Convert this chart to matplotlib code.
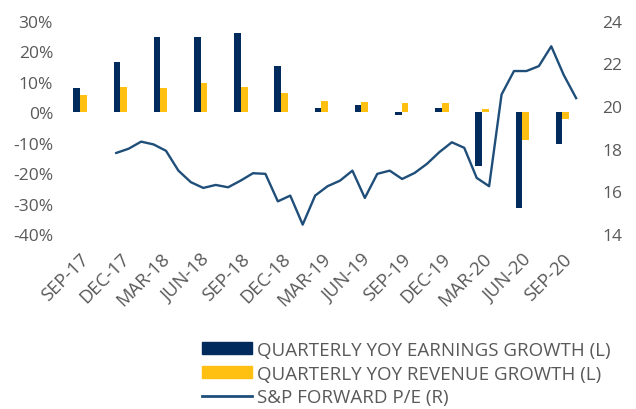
import matplotlib
matplotlib.use('Agg')
import matplotlib.pyplot as plt
from matplotlib.patches import Patch
from matplotlib.lines import Line2D
import numpy as np

# --- データ ---
quarters = ['SEP-17', 'DEC-17', 'MAR-18', 'JUN-18', 'SEP-18', 'DEC-18', 'MAR-19',
            'JUN-19', 'SEP-19', 'DEC-19', 'MAR-20', 'JUN-20', 'SEP-20']
earnings_growth = [7.9, 16.4, 24.7, 24.7, 25.8, 15.1, 1.3, 2.4, -0.9, 1.5, -17.8, -31.4, -10.4]
revenue_growth = [5.7, 8.2, 7.9, 9.6, 8.2, 6.3, 3.6, 3.3, 3.1, 3.1, 1.1, -9.3, -2.2]
forward_pe = [17.8, 18.0, 18.33, 18.2, 17.9, 16.97, 16.43, 16.16, 16.3, 16.19, 16.5, 16.85,
              16.82, 15.53, 15.8, 14.44, 15.8, 16.24, 16.5, 16.97, 15.69, 16.82, 16.97,
              16.58, 16.86, 17.29, 17.84, 18.3, 18.04, 16.63, 16.24, 20.54, 21.64, 21.64,
              21.87, 22.8, 21.46, 20.37]

NAVY = '#002B5C'
GOLD = '#FFC012'
LINE = '#1F4E79'
GRAY = '#595959'

plt.rcParams['font.family'] = ['Open Sans', 'DejaVu Sans']

fig = plt.figure(figsize=(6.36, 4.10), dpi=100)
ax = fig.add_axes([60 / 636, 1 - 235 / 410, 532.6 / 636, 213.3 / 410])
ax2 = ax.twinx()

x = np.arange(len(quarters))
w = 0.167
ax.bar(x - w / 2, np.array(earnings_growth) / 100, width=w, color=NAVY, zorder=2)
ax.bar(x + w / 2, np.array(revenue_growth) / 100, width=w, color=GOLD, zorder=2)

# P/E 線は独自の時間軸（おおむね月次）
xpe = np.linspace(0.9, 12.34, len(forward_pe))
ax2.plot(xpe, forward_pe, color=LINE, lw=1.7, zorder=3)

ax.set_xlim(-0.5, 12.75)
ax.set_ylim(-0.40, 0.30)
ax2.set_ylim(14, 24)
ax.set_yticks(np.arange(-0.4, 0.31, 0.1))
ax.set_yticklabels([f'{int(round(v * 100))}%' for v in np.arange(-0.4, 0.31, 0.1)])
ax2.set_yticks(np.arange(14, 25, 2))

ax.set_xticks(x)
ax.set_xticklabels(quarters, rotation=45, ha='right', rotation_mode='anchor')

for a in (ax, ax2):
    for s in a.spines.values():
        s.set_visible(False)
    a.tick_params(length=0, colors=GRAY, labelsize=12.5)
ax.tick_params(axis='y', pad=5)
ax.tick_params(axis='x', pad=11, labelsize=13.3)
ax2.tick_params(axis='y', pad=7)

handles = [Patch(color=NAVY), Patch(color=GOLD), Line2D([], [], color=LINE, lw=2)]
labels = ['QUARTERLY YOY EARNINGS GROWTH (L)', 'QUARTERLY YOY REVENUE GROWTH (L)',
          'S&P FORWARD P/E (R)']
fig.legend(handles, labels, loc='upper left', bbox_to_anchor=(202 / 636, 1 - 342 / 410),
           frameon=False, borderpad=0, borderaxespad=0, fontsize=13.5,
           handlelength=2.65, handleheight=0.6, handletextpad=0.3, labelspacing=0.3,
           labelcolor=GRAY)

fig.savefig('out.png', dpi=100)
